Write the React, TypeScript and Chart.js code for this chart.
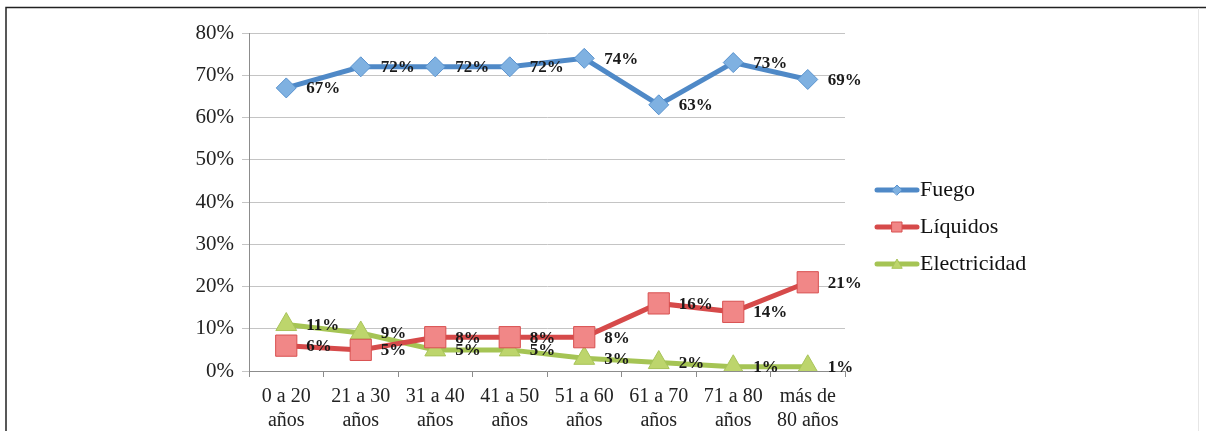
import React, { useEffect, useRef } from "react";
import { Chart, registerables } from "chart.js";

Chart.register(...registerables);

const categories: string[][] = [
  ["0 a 20", "años"],
  ["21 a 30", "años"],
  ["31 a 40", "años"],
  ["41 a 50", "años"],
  ["51 a 60", "años"],
  ["61 a 70", "años"],
  ["71 a 80", "años"],
  ["más de", "80 años"],
];
const fuego = [67, 72, 72, 72, 74, 63, 73, 69];
const liquidos = [6, 5, 8, 8, 8, 16, 14, 21];
const electricidad = [11, 9, 5, 5, 3, 2, 1, 1];
const seriesNames = ["Fuego", "Líquidos", "Electricidad"];
const yTicks = [0, 10, 20, 30, 40, 50, 60, 70, 80];

const SERIF = "'Liberation Serif', 'Times New Roman', serif";

const framePlugin = {
  id: "frame",
  beforeDraw(chart: any) {
    const ctx = chart.ctx;
    ctx.save();
    ctx.fillStyle = "#ffffff";
    ctx.fillRect(0, 0, chart.width, chart.height);
    ctx.strokeStyle = "#222222";
    ctx.lineWidth = 1.5;
    ctx.beginPath();
    ctx.moveTo(6, 431);
    ctx.lineTo(6, 7.5);
    ctx.lineTo(1206, 7.5);
    ctx.stroke();
    ctx.strokeStyle = "#e6e6e6";
    ctx.lineWidth = 1;
    ctx.beginPath();
    ctx.moveTo(1198.5, 8);
    ctx.lineTo(1198.5, 431);
    ctx.stroke();
    ctx.restore();
  },
};

const labelPlugin = {
  id: "dataLabels",
  afterDatasetsDraw(chart: any) {
    const ctx = chart.ctx;
    ctx.save();
    ctx.font = `bold 17px ${SERIF}`;
    ctx.fillStyle = "#1a1a1a";
    ctx.textAlign = "left";
    ctx.textBaseline = "middle";
    chart.data.datasets.forEach((ds: any, i: number) => {
      const meta = chart.getDatasetMeta(i);
      meta.data.forEach((pt: any, j: number) => {
        ctx.fillText(ds.data[j] + "%", pt.x + 20, pt.y + 1);
      });
    });
    ctx.restore();
  },
};

const legendPlugin = {
  id: "customLegend",
  afterDraw(chart: any) {
    const ctx = chart.ctx;
    ctx.save();
    chart.data.datasets.forEach((ds: any, i: number) => {
      const y = 190 + i * 37;
      ctx.strokeStyle = ds.borderColor;
      ctx.lineWidth = 5;
      ctx.lineCap = "round";
      ctx.beginPath();
      ctx.moveTo(877, y);
      ctx.lineTo(917, y);
      ctx.stroke();
      ctx.fillStyle = ds.pointBackgroundColor;
      ctx.strokeStyle = ds.pointBorderColor;
      ctx.lineWidth = 1;
      const cx = 897;
      ctx.beginPath();
      if (ds.pointStyle === "rectRot") {
        ctx.moveTo(cx - 5, y);
        ctx.lineTo(cx, y - 5);
        ctx.lineTo(cx + 5, y);
        ctx.lineTo(cx, y + 5);
        ctx.closePath();
      } else if (ds.pointStyle === "rect") {
        ctx.rect(cx - 5, y - 5, 10, 10);
      } else {
        ctx.moveTo(cx - 5, y + 4);
        ctx.lineTo(cx, y - 5);
        ctx.lineTo(cx + 5, y + 4);
        ctx.closePath();
      }
      ctx.fill();
      ctx.stroke();
      ctx.fillStyle = "#111111";
      ctx.font = `22px ${SERIF}`;
      ctx.textAlign = "left";
      ctx.textBaseline = "middle";
      ctx.fillText(ds.label, 920, y);
    });
    ctx.restore();
  },
};

export default function App() {
  const ref = useRef<HTMLCanvasElement>(null);

  useEffect(() => {
    if (!ref.current) return;
    const chart = new Chart(ref.current, {
      type: "line",
      data: {
        labels: categories,
        datasets: [
          {
            label: seriesNames[0],
            data: fuego,
            borderColor: "#4f89c7",
            backgroundColor: "#4f89c7",
            borderWidth: 5,
            pointStyle: "rectRot",
            pointRadius: 10,
            pointBackgroundColor: "#7fb1e1",
            pointBorderColor: "#5a93cf",
            pointBorderWidth: 1,
            tension: 0,
          },
          {
            label: seriesNames[1],
            data: liquidos,
            borderColor: "#d64a4a",
            backgroundColor: "#d64a4a",
            borderWidth: 5,
            pointStyle: "rect",
            pointRadius: 15,
            pointBackgroundColor: "#f18787",
            pointBorderColor: "#d85050",
            pointBorderWidth: 1,
            tension: 0,
          },
          {
            label: seriesNames[2],
            data: electricidad,
            borderColor: "#a5c454",
            backgroundColor: "#a5c454",
            borderWidth: 5,
            pointStyle: "triangle",
            pointRadius: 12,
            pointBackgroundColor: "#bdd56c",
            pointBorderColor: "#a8c45a",
            pointBorderWidth: 1,
            tension: 0,
          },
        ],
      },
      options: {
        animation: false,
        responsive: false,
        layout: { padding: { left: 0, top: 33, right: 361, bottom: 0 } },
        plugins: {
          legend: { display: false },
          tooltip: { enabled: false },
        },
        scales: {
          x: {
            offset: true,
            grid: {
              display: true,
              offset: true,
              drawOnChartArea: false,
              drawTicks: true,
              tickLength: 6,
              color: "#8c8c8c",
            },
            border: { display: true, color: "#8c8c8c" },
            ticks: {
              font: { family: SERIF, size: 20 },
              color: "#222222",
              padding: 8,
              maxRotation: 0,
              autoSkip: false,
            },
            afterFit(scale: any) {
              scale.height = 60;
            },
          },
          y: {
            min: yTicks[0],
            max: yTicks[yTicks.length - 1],
            afterBuildTicks(scale: any) {
              scale.ticks = yTicks.map((v) => ({ value: v }));
            },
            grid: {
              color: "#c4c4c4",
              tickLength: 7,
              drawTicks: true,
            },
            border: { display: true, color: "#8c8c8c" },
            ticks: {
              font: { family: SERIF, size: 21 },
              color: "#222222",
              padding: 8,
              callback: (v: any) => v + "%",
            },
            afterFit(scale: any) {
              scale.width = 249;
            },
          },
        },
      },
      plugins: [framePlugin, labelPlugin, legendPlugin],
    });
    return () => chart.destroy();
  }, []);

  return (
    <div style={{ width: 1206, height: 431 }}>
      <style>{`body{margin:0}`}</style>
      <canvas ref={ref} width={1206} height={431} style={{ display: "block" }} />
    </div>
  );
}
